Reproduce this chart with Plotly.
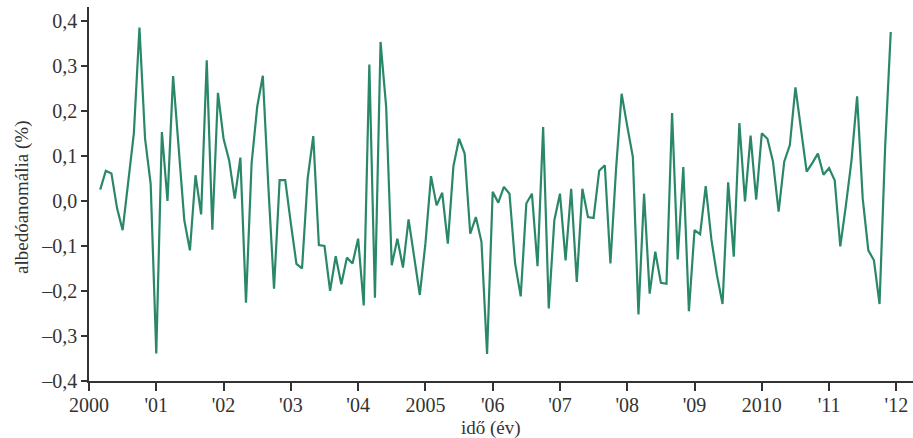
import plotly.graph_objects as go

# Monthly albedo anomaly (%), March 2000 - December 2011
a2000 = [0.025, 0.067, 0.061, -0.016, -0.065, 0.05, 0.15, 0.385, 0.138, 0.038]
a2001 = [-0.339, 0.153, 0.0, 0.277, 0.114, -0.043, -0.11, 0.057, -0.03, 0.312, -0.064, 0.24]
a2002 = [0.138, 0.09, 0.005, 0.096, -0.226, 0.083, 0.209, 0.278, 0.03, -0.195, 0.046, 0.046]
a2003 = [-0.05, -0.14, -0.15, 0.05, 0.144, -0.098, -0.1, -0.2, -0.123, -0.185, -0.126, -0.139]
a2004 = [-0.084, -0.232, 0.303, -0.215, 0.353, 0.209, -0.143, -0.084, -0.148, -0.041, -0.125, -0.209]
a2005 = [-0.095, 0.055, -0.01, 0.018, -0.095, 0.077, 0.138, 0.105, -0.073, -0.036, -0.091, -0.34]
a2006 = [0.02, -0.004, 0.031, 0.016, -0.139, -0.212, -0.006, 0.016, -0.145, 0.164, -0.239, -0.043]
a2007 = [0.016, -0.132, 0.027, -0.18, 0.027, -0.036, -0.038, 0.067, 0.079, -0.139, 0.07, 0.238]
a2008 = [0.166, 0.098, -0.252, 0.016, -0.206, -0.113, -0.182, -0.184, 0.195, -0.13, 0.075, -0.245]
a2009 = [-0.065, -0.074, 0.033, -0.085, -0.165, -0.229, 0.041, -0.124, 0.173, -0.001, 0.145, 0.003]
a2010 = [0.15, 0.138, 0.087, -0.024, 0.087, 0.124, 0.252, 0.157, 0.065, 0.084, 0.105, 0.058]
a2011 = [0.073, 0.046, -0.101, -0.01, 0.09, 0.232, 0.005, -0.11, -0.132, -0.229, 0.12, 0.375]

years_data = [(2000, a2000), (2001, a2001), (2002, a2002), (2003, a2003), (2004, a2004),
              (2005, a2005), (2006, a2006), (2007, a2007), (2008, a2008), (2009, a2009),
              (2010, a2010), (2011, a2011)]

x_tick_vals = list(range(2000, 2013))
x_tick_text = ["2000", "'01", "'02", "'03", "'04", "2005", "'06", "'07", "'08", "'09",
               "2010", "'11", "'12"]
y_tick_vals = [0.4, 0.3, 0.2, 0.1, 0.0, -0.1, -0.2, -0.3, -0.4]
y_tick_text = ["0,4", "0,3", "0,2", "0,1", "0,0", "–0,1", "–0,2", "–0,3", "–0,4"]

x, y = [], []
for yr, vals in years_data:
    first_month = 12 - len(vals)  # 0-based month index of first value
    for i, v in enumerate(vals):
        x.append(yr + (first_month + i) / 12.0)
        y.append(v)

FONT = "Liberation Serif"
AX = "#333333"
W, H = 913, 438
ML, MR, MT, MB = 89, 0, 7, 57
pw = W - ML - MR
ph = H - MT - MB
px_per_year = 67.28

fig = go.Figure()
fig.add_trace(go.Scatter(x=x, y=y, mode="lines",
                         line=dict(color="#2a8869", width=2.2),
                         hoverinfo="skip", showlegend=False))

fig.update_layout(
    width=W, height=H,
    margin=dict(l=ML, r=MR, t=MT, b=MB, autoexpand=False),
    plot_bgcolor="white", paper_bgcolor="white",
    font=dict(family=FONT, size=19, color=AX),
    xaxis=dict(range=[2000, 2000 + pw / px_per_year], automargin=False,
               tickvals=x_tick_vals, ticktext=x_tick_text,
               showline=True, linecolor=AX, linewidth=1.5,
               ticks="outside", ticklen=8, tickwidth=1.5, tickcolor=AX,
               ticklabelstandoff=-3,
               showgrid=False, zeroline=False,
               tickfont=dict(family=FONT, size=20, color=AX)),
    yaxis=dict(range=[-0.4, -0.4 + ph / 450.3], automargin=False,
               tickvals=y_tick_vals, ticktext=y_tick_text,
               showline=True, linecolor=AX, linewidth=1.5,
               ticks="outside", ticklen=6, tickwidth=1.5, tickcolor=AX,
               showgrid=False, zeroline=False,
               tickfont=dict(family=FONT, size=20, color=AX)),
    annotations=[
        dict(text="idő (év)", xref="paper", yref="paper",
             x=(491 - ML) / pw, y=-(428 - 381) / ph, xanchor="center", yanchor="middle",
             showarrow=False, font=dict(family=FONT, size=19, color=AX)),
        dict(text="albedóanomália (%)", xref="paper", yref="paper",
             x=-(ML - 22) / pw, y=(381 - 197) / ph, xanchor="center", yanchor="middle",
             textangle=-90, showarrow=False, font=dict(family=FONT, size=19, color=AX)),
    ],
)

fig.write_html("out.html", config={"displayModeBar": False},
               post_script="document.body.style.margin='0';document.body.style.overflow='hidden';")
